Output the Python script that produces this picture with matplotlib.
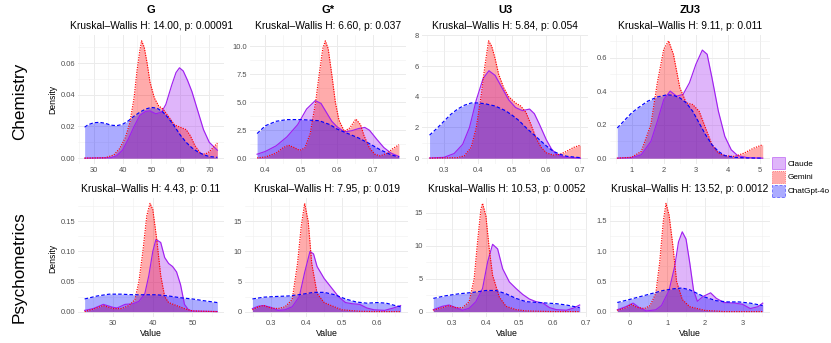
import matplotlib
matplotlib.use("Agg")
import matplotlib.pyplot as plt
from matplotlib.patches import Patch
from matplotlib.ticker import AutoMinorLocator
from matplotlib.colors import to_rgba

plt.rcParams['font.family'] = ['Liberation Sans', 'DejaVu Sans']

# ---------------- data ----------------
models = ["Claude", "Gemini", "ChatGpt-4o"]
metrics = ["G", "G*", "U3", "ZU3"]
domains = ["Chemistry", "Psychometrics"]

kw_chem = ["Kruskal–Wallis H: 14.00, p: 0.00091", "Kruskal–Wallis H: 6.60, p: 0.037",
           "Kruskal–Wallis H: 5.84, p: 0.054", "Kruskal–Wallis H: 9.11, p: 0.011"]
kw_psy = ["Kruskal–Wallis H: 4.43, p: 0.11", "Kruskal–Wallis H: 7.95, p: 0.019",
          "Kruskal–Wallis H: 10.53, p: 0.0052", "Kruskal–Wallis H: 13.52, p: 0.0012"]

# Chemistry - G
chem_g_claude_x = [26.9, 36, 38, 40, 42, 44, 46, 48, 49.5, 51.5, 53.5, 55, 57, 58.5, 59.7, 61, 62.5, 64, 66, 68, 70, 72.8]
chem_g_claude_y = [0, 0.0003, 0.0015, 0.005, 0.012, 0.02, 0.027, 0.0295, 0.0298, 0.028, 0.029, 0.034, 0.046, 0.054, 0.057, 0.055, 0.049, 0.042, 0.030, 0.018, 0.010, 0.005]
chem_g_gemini_x = [26.9, 34, 37, 39, 41, 42.5, 44, 45, 46, 46.6, 47.5, 48.5, 49.5, 51, 52.5, 54, 56, 58, 60, 62, 63.5, 65, 67, 68.5, 70, 71.5, 72.8]
chem_g_gemini_y = [0, 0.0002, 0.002, 0.006, 0.013, 0.022, 0.038, 0.055, 0.068, 0.074, 0.07, 0.06, 0.048, 0.038, 0.033, 0.031, 0.026, 0.021, 0.0195, 0.018, 0.014, 0.008, 0.003, 0.0025, 0.004, 0.007, 0.0095]
chem_g_gpt_x = [26.9, 28, 30, 32, 34, 36, 38, 40, 42, 44, 46, 48, 50, 52, 54, 56, 58, 60, 62, 64, 66, 68, 70, 72.8]
chem_g_gpt_y = [0.0195, 0.021, 0.0223, 0.0226, 0.022, 0.0208, 0.0205, 0.0213, 0.0235, 0.0265, 0.029, 0.031, 0.032, 0.0315, 0.029, 0.025, 0.02, 0.0145, 0.01, 0.0065, 0.004, 0.0022, 0.001, 0.0005]

# Chemistry - G*
chem_gs_claude_x = [0.377, 0.40, 0.43, 0.46, 0.49, 0.515, 0.539, 0.555, 0.57, 0.585, 0.60, 0.62, 0.64, 0.66, 0.677, 0.69, 0.71, 0.73, 0.75, 0.772]
chem_gs_claude_y = [0.35, 0.6, 1.1, 1.9, 3.0, 4.4, 5.15, 4.9, 4.1, 3.3, 2.8, 2.35, 2.45, 2.65, 2.75, 2.5, 1.7, 0.95, 0.45, 0.15]
chem_gs_gemini_x = [0.377, 0.40, 0.43, 0.45, 0.465, 0.48, 0.495, 0.51, 0.525, 0.54, 0.55, 0.56, 0.567, 0.575, 0.585, 0.595, 0.605, 0.62, 0.635, 0.652, 0.665, 0.675, 0.69, 0.705, 0.72, 0.74, 0.755, 0.772]
chem_gs_gemini_y = [0.02, 0.1, 0.45, 0.95, 1.15, 0.95, 0.7, 0.9, 2.2, 5.0, 7.5, 9.8, 10.5, 9.8, 7.5, 5.0, 3.4, 2.4, 2.7, 3.5, 3.0, 2.0, 0.9, 0.35, 0.2, 0.45, 0.85, 1.2]
chem_gs_gpt_x = [0.377, 0.40, 0.43, 0.46, 0.50, 0.55, 0.58, 0.60, 0.63, 0.66, 0.69, 0.72, 0.75, 0.772]
chem_gs_gpt_y = [2.2, 2.9, 3.3, 3.45, 3.45, 3.35, 3.0, 2.6, 2.2, 1.8, 1.3, 0.75, 0.3, 0.1]

# Chemistry - U3
chem_u3_claude_x = [0.258, 0.30, 0.33, 0.355, 0.375, 0.395, 0.415, 0.432, 0.45, 0.47, 0.49, 0.51, 0.53, 0.551, 0.565, 0.58, 0.60, 0.615, 0.63, 0.65, 0.70]
chem_u3_claude_y = [0.01, 0.05, 0.3, 0.9, 2.0, 3.8, 5.2, 5.7, 5.4, 4.6, 3.8, 3.3, 3.1, 3.2, 2.9, 2.2, 1.2, 0.6, 0.25, 0.08, 0.0]
chem_u3_gemini_x = [0.258, 0.34, 0.36, 0.38, 0.395, 0.41, 0.42, 0.431, 0.44, 0.45, 0.46, 0.475, 0.49, 0.51, 0.525, 0.54, 0.555, 0.57, 0.585, 0.60, 0.62, 0.64, 0.66, 0.68, 0.70]
chem_u3_gemini_y = [0, 0.03, 0.15, 0.7, 2.0, 4.2, 6.0, 7.65, 7.3, 6.5, 5.5, 4.6, 4.0, 3.6, 3.4, 3.0, 2.2, 1.3, 0.7, 0.35, 0.2, 0.25, 0.45, 0.7, 0.85]
chem_u3_gpt_x = [0.258, 0.28, 0.30, 0.32, 0.34, 0.36, 0.38, 0.40, 0.42, 0.45, 0.48, 0.50, 0.52, 0.54, 0.56, 0.58, 0.60, 0.62, 0.64, 0.66, 0.70]
chem_u3_gpt_y = [1.5, 1.95, 2.4, 2.85, 3.2, 3.45, 3.6, 3.6, 3.55, 3.4, 3.1, 2.8, 2.45, 2.0, 1.6, 1.2, 0.8, 0.45, 0.25, 0.12, 0.03]

# Chemistry - ZU3
chem_zu3_claude_x = [0.553, 1.0, 1.3, 1.6, 1.8, 2.0, 2.2, 2.4, 2.6, 2.8, 3.0, 3.2, 3.35, 3.5, 3.7, 3.9, 4.1, 4.3, 4.6, 5.08]
chem_zu3_claude_y = [0, 0.003, 0.02, 0.1, 0.22, 0.35, 0.40, 0.37, 0.38, 0.45, 0.56, 0.645, 0.62, 0.48, 0.28, 0.13, 0.05, 0.015, 0.003, 0]
chem_zu3_gemini_x = [0.553, 1.0, 1.3, 1.6, 1.8, 2.0, 2.15, 2.3, 2.5, 2.7, 2.9, 3.1, 3.3, 3.5, 3.7, 3.9, 4.2, 4.5, 4.8, 5.08]
chem_zu3_gemini_y = [0, 0.005, 0.04, 0.2, 0.45, 0.65, 0.70, 0.62, 0.42, 0.33, 0.32, 0.28, 0.18, 0.08, 0.03, 0.015, 0.01, 0.03, 0.06, 0.08]
chem_zu3_gpt_x = [0.553, 0.8, 1.0, 1.2, 1.5, 1.8, 2.1, 2.3, 2.5, 2.7, 2.9, 3.1, 3.3, 3.5, 3.7, 3.9, 4.2, 4.6, 5.08]
chem_zu3_gpt_y = [0.18, 0.23, 0.27, 0.30, 0.34, 0.365, 0.378, 0.375, 0.36, 0.33, 0.28, 0.21, 0.14, 0.08, 0.04, 0.015, 0.005, 0.001, 0]

# Psychometrics - G
psy_g_claude_x = [22.8, 25, 27.5, 30, 31, 33, 35, 36.5, 38, 39, 40, 40.8, 42, 43, 44, 45, 46, 47, 48, 49, 50, 56.3]
psy_g_claude_y = [0.002, 0.005, 0.012, 0.007, 0.006, 0.012, 0.013, 0.017, 0.03, 0.06, 0.10, 0.12, 0.115, 0.09, 0.08, 0.075, 0.066, 0.045, 0.012, 0.003, 0.001, 0]
psy_g_gemini_x = [22.8, 25, 27.5, 30, 32, 34, 35.5, 36.5, 37.5, 38.5, 39.3, 40, 41, 42, 43, 44, 46, 48, 50, 56.3]
psy_g_gemini_y = [0, 0.004, 0.01, 0.005, 0.005, 0.01, 0.02, 0.05, 0.10, 0.16, 0.18, 0.17, 0.12, 0.06, 0.025, 0.015, 0.01, 0.005, 0.001, 0]
psy_g_gpt_x = [22.8, 26, 29, 32, 35, 38, 41, 44, 47, 50, 53, 56.3]
psy_g_gpt_y = [0.021, 0.026, 0.029, 0.029, 0.028, 0.028, 0.028, 0.026, 0.023, 0.021, 0.018, 0.015]

# Psychometrics - G*
psy_gs_claude_x = [0.248, 0.265, 0.28, 0.30, 0.32, 0.34, 0.36, 0.38, 0.395, 0.41, 0.42, 0.43, 0.45, 0.47, 0.49, 0.51, 0.53, 0.55, 0.57, 0.59, 0.62, 0.645, 0.665]
psy_gs_claude_y = [0.5, 0.9, 1.0, 0.7, 0.2, 0.3, 0.8, 2.5, 6.5, 10.0, 9.6, 7.5, 5.5, 4.0, 2.5, 1.5, 1.3, 1.2, 0.6, 0.3, 0.2, 0.6, 1.0]
psy_gs_gemini_x = [0.248, 0.265, 0.28, 0.30, 0.32, 0.34, 0.36, 0.375, 0.385, 0.395, 0.405, 0.415, 0.43, 0.45, 0.47, 0.50, 0.55, 0.60, 0.665]
psy_gs_gemini_y = [0.3, 0.8, 1.0, 0.6, 0.5, 0.8, 2.0, 8.0, 14.0, 18.0, 15.0, 8.0, 3.0, 1.5, 1.0, 0.3, 0.05, 0.0, 0.0]
psy_gs_gpt_x = [0.248, 0.28, 0.31, 0.35, 0.39, 0.42, 0.45, 0.48, 0.51, 0.54, 0.57, 0.60, 0.625, 0.65, 0.665]
psy_gs_gpt_y = [2.1, 2.4, 2.5, 2.6, 2.9, 3.2, 3.2, 2.8, 2.1, 1.6, 1.4, 1.5, 1.4, 1.0, 0.8]

# Psychometrics - U3
psy_u3_claude_x = [0.243, 0.27, 0.29, 0.31, 0.33, 0.35, 0.37, 0.39, 0.405, 0.42, 0.435, 0.45, 0.47, 0.49, 0.51, 0.53, 0.55, 0.57, 0.59, 0.61, 0.64, 0.66, 0.68]
psy_u3_claude_y = [0.3, 0.8, 1.0, 0.6, 0.2, 0.5, 1.5, 3.5, 7.5, 10.2, 9.5, 6.5, 4.5, 3.5, 2.6, 1.9, 1.5, 1.3, 0.6, 0.3, 0.2, 0.5, 1.0]
psy_u3_gemini_x = [0.243, 0.27, 0.29, 0.31, 0.33, 0.35, 0.365, 0.375, 0.385, 0.39, 0.40, 0.41, 0.42, 0.44, 0.46, 0.49, 0.52, 0.60, 0.68]
psy_u3_gemini_y = [0.2, 0.6, 0.9, 0.6, 0.6, 1.5, 5.0, 10.5, 15.5, 16.4, 14.5, 9.5, 5.5, 2.2, 0.8, 0.3, 0.1, 0.0, 0.0]
psy_u3_gpt_x = [0.243, 0.28, 0.32, 0.36, 0.40, 0.43, 0.46, 0.49, 0.52, 0.55, 0.58, 0.61, 0.64, 0.66, 0.68]
psy_u3_gpt_y = [2.0, 2.4, 2.7, 2.9, 3.2, 3.2, 2.7, 2.0, 1.5, 1.4, 1.3, 1.2, 1.0, 0.8, 0.6]

# Psychometrics - ZU3
psy_zu3_claude_x = [-0.32, -0.1, 0.1, 0.25, 0.45, 0.7, 0.85, 1.05, 1.2, 1.3, 1.4, 1.5, 1.6, 1.7, 1.8, 1.95, 2.15, 2.3, 2.5, 2.8, 3.0, 3.2, 3.4, 3.53]
psy_zu3_claude_y = [0.03, 0.08, 0.14, 0.07, 0.01, 0.03, 0.1, 0.35, 0.75, 1.15, 1.32, 1.2, 0.8, 0.35, 0.17, 0.25, 0.31, 0.22, 0.15, 0.14, 0.12, 0.05, 0.08, 0.14]
psy_zu3_gemini_x = [-0.32, -0.1, 0.05, 0.2, 0.4, 0.55, 0.7, 0.8, 0.9, 0.97, 1.05, 1.15, 1.25, 1.4, 1.6, 2.0, 2.5, 3.53]
psy_zu3_gemini_y = [0.02, 0.06, 0.12, 0.07, 0.05, 0.1, 0.3, 0.8, 1.5, 1.79, 1.6, 1.1, 0.5, 0.2, 0.08, 0.02, 0.0, 0.0]
psy_zu3_gpt_x = [-0.32, 0.0, 0.3, 0.6, 0.9, 1.2, 1.4, 1.6, 1.8, 2.0, 2.3, 2.6, 2.9, 3.2, 3.53]
psy_zu3_gpt_y = [0.15, 0.2, 0.25, 0.3, 0.35, 0.38, 0.39, 0.36, 0.3, 0.24, 0.18, 0.16, 0.16, 0.14, 0.1]

# tick breaks and labels
chem_xticks = [[30, 40, 50, 60, 70], [0.4, 0.5, 0.6, 0.7], [0.3, 0.4, 0.5, 0.6, 0.7], [1, 2, 3, 4, 5]]
chem_xlabels = [["30", "40", "50", "60", "70"], ["0.4", "0.5", "0.6", "0.7"],
                ["0.3", "0.4", "0.5", "0.6", "0.7"], ["1", "2", "3", "4", "5"]]
chem_yticks = [[0, 0.02, 0.04, 0.06], [0, 2.5, 5, 7.5, 10], [0, 2, 4, 6, 8], [0, 0.2, 0.4, 0.6]]
chem_ylabels = [["0.00", "0.02", "0.04", "0.06"], ["0.0", "2.5", "5.0", "7.5", "10.0"],
                ["0", "2", "4", "6", "8"], ["0.0", "0.2", "0.4", "0.6"]]
psy_xticks = [[30, 40, 50], [0.3, 0.4, 0.5, 0.6], [0.3, 0.4, 0.5, 0.6, 0.7], [0, 1, 2, 3]]
psy_xlabels = [["30", "40", "50"], ["0.3", "0.4", "0.5", "0.6"],
               ["0.3", "0.4", "0.5", "0.6", "0.7"], ["0", "1", "2", "3"]]
psy_yticks = [[0, 0.05, 0.10, 0.15], [0, 5, 10, 15], [0, 5, 10, 15], [0, 0.5, 1.0, 1.5]]
psy_ylabels = [["0.00", "0.05", "0.10", "0.15"], ["0", "5", "10", "15"],
               ["0", "5", "10", "15"], ["0.0", "0.5", "1.0", "1.5"]]

# ---------------- figure ----------------
W, H = 831, 343
fig = plt.figure(figsize=(W / 100, H / 100), dpi=100)

colors = {"Claude": "#A020F0", "Gemini": "#FF0000", "ChatGpt-4o": "#0000FF"}
styles = {"Claude": "-", "Gemini": (0, (1, 1.1)), "ChatGpt-4o": (0, (3, 1.8))}
ALPHA = 0.33

chem_series = [
    [(chem_g_claude_x, chem_g_claude_y), (chem_g_gemini_x, chem_g_gemini_y), (chem_g_gpt_x, chem_g_gpt_y)],
    [(chem_gs_claude_x, chem_gs_claude_y), (chem_gs_gemini_x, chem_gs_gemini_y), (chem_gs_gpt_x, chem_gs_gpt_y)],
    [(chem_u3_claude_x, chem_u3_claude_y), (chem_u3_gemini_x, chem_u3_gemini_y), (chem_u3_gpt_x, chem_u3_gpt_y)],
    [(chem_zu3_claude_x, chem_zu3_claude_y), (chem_zu3_gemini_x, chem_zu3_gemini_y), (chem_zu3_gpt_x, chem_zu3_gpt_y)],
]
psy_series = [
    [(psy_g_claude_x, psy_g_claude_y), (psy_g_gemini_x, psy_g_gemini_y), (psy_g_gpt_x, psy_g_gpt_y)],
    [(psy_gs_claude_x, psy_gs_claude_y), (psy_gs_gemini_x, psy_gs_gemini_y), (psy_gs_gpt_x, psy_gs_gpt_y)],
    [(psy_u3_claude_x, psy_u3_claude_y), (psy_u3_gemini_x, psy_u3_gemini_y), (psy_u3_gpt_x, psy_u3_gpt_y)],
    [(psy_zu3_claude_x, psy_zu3_claude_y), (psy_zu3_gemini_x, psy_zu3_gemini_y), (psy_zu3_gpt_x, psy_zu3_gpt_y)],
]

# panel boxes in pixels: (left, right, top, bottom)
row1_boxes = [(78, 224, 35, 164), (250, 406, 35, 164), (422, 588, 35, 164), (610, 770, 35, 164)]
row2_boxes = [(78, 224, 198, 317), (245, 408, 198, 317), (426, 587, 198, 317), (610, 770, 198, 317)]


def px_axes(box):
    l, r, t, b = box
    return fig.add_axes([l / W, 1 - b / H, (r - l) / W, (b - t) / H])


def draw_panel(ax, series, xt, xl, yt, yl):
    xmin = min(min(s[0]) for s in series)
    xmax = max(max(s[0]) for s in series)
    ymax = max(max(s[1]) for s in series)
    for name, (x, y) in zip(models, series):
        c = colors[name]
        ax.fill_between(x, y, 0, color=c, alpha=ALPHA, lw=0)
        ax.plot(x, y, color=c, ls=styles[name], lw=0.85)
    dx = (xmax - xmin) * 0.05
    ax.set_xlim(xmin - dx, xmax + dx)
    ax.set_ylim(-ymax * 0.05, ymax * 1.05)
    ax.set_xticks(xt)
    ax.set_xticklabels(xl)
    ax.set_yticks(yt)
    ax.set_yticklabels(yl)
    ax.xaxis.set_minor_locator(AutoMinorLocator(2))
    ax.yaxis.set_minor_locator(AutoMinorLocator(2))
    ax.grid(which='major', color='#EBEBEB', lw=0.7)
    ax.grid(which='minor', color='#EFEFEF', lw=0.4)
    ax.set_axisbelow(True)
    ax.tick_params(which='both', length=0, labelsize=5.4, labelcolor='#4D4D4D', pad=2.2)
    for s in ax.spines.values():
        s.set_visible(False)


for i in range(4):
    ax = px_axes(row1_boxes[i])
    draw_panel(ax, chem_series[i], chem_xticks[i], chem_xlabels[i], chem_yticks[i], chem_ylabels[i])
    l, r, t, b = row1_boxes[i]
    cx = (l + r) / 2 / W
    fig.text(cx, 1 - 9.7 / H, metrics[i], ha='center', va='center', fontsize=8, fontweight='bold')
    fig.text(cx, 1 - 25.7 / H, kw_chem[i], ha='center', va='center', fontsize=7.4)

for i in range(4):
    ax = px_axes(row2_boxes[i])
    draw_panel(ax, psy_series[i], psy_xticks[i], psy_xlabels[i], psy_yticks[i], psy_ylabels[i])
    l, r, t, b = row2_boxes[i]
    cx = (l + r) / 2 / W
    fig.text(cx, 1 - 189 / H, kw_psy[i], ha='center', va='center', fontsize=7.4)
    fig.text(cx, 1 - 333 / H, "Value", ha='center', va='center', fontsize=6.3)

# y-axis titles
fig.text(53 / W, 1 - 99.5 / H, "Density", rotation=90, ha='center', va='center', fontsize=6.2)
fig.text(53 / W, 1 - 258 / H, "Density", rotation=90, ha='center', va='center', fontsize=6.2)

# row labels
fig.text(19.5 / W, 1 - 101 / H, domains[0], rotation=90, ha='center', va='center', fontsize=12.3)
fig.text(19.5 / W, 1 - 267 / H, domains[1], rotation=90, ha='center', va='center', fontsize=12.3)

# legend
handles = [Patch(facecolor=to_rgba(colors[m], ALPHA), edgecolor=to_rgba(colors[m], 0.45),
                 linestyle=styles[m], lw=0.7)
           for m in models]
fig.legend(handles, models, loc='upper left', bbox_to_anchor=(772 / W, 1 - 157 / H),
           frameon=False, fontsize=5.9, handlelength=1.6, handleheight=1.9,
           labelspacing=0.2, handletextpad=0.25, borderpad=0, borderaxespad=0)

fig.savefig("out.png", dpi=100)
